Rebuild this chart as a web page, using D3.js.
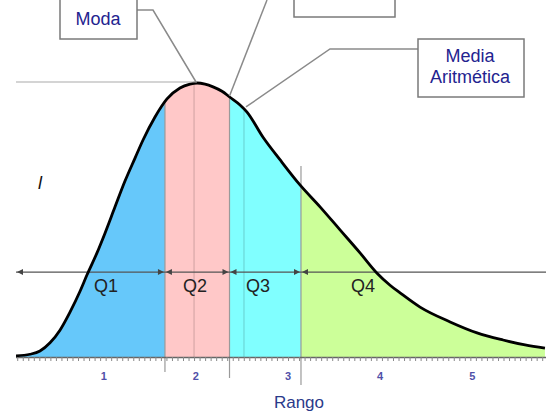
<!DOCTYPE html>
<html>
<head>
<meta charset="utf-8">
<script src="https://cdn.jsdelivr.net/npm/d3@7"></script>
<style>
  body { margin: 0; background: #fff; }
  svg { display: block; font-family: "Liberation Sans", Arial, sans-serif; }
</style>
</head>
<body>
<svg width="557" height="413"></svg>
<script>
// curve (x in "Rango" units, y relative density)
const curveX = [0.047, 0.199, 0.307, 0.416, 0.524, 0.633, 0.742, 0.818, 0.926, 1.013,
  1.122, 1.230, 1.339, 1.426, 1.556, 1.686, 1.827, 1.936, 2.012, 2.099,
  2.186, 2.283, 2.370, 2.479, 2.555, 2.729, 2.913, 3.130, 3.348, 3.565,
  3.782, 3.967, 4.108, 4.217, 4.434, 4.760, 5.053, 5.335, 5.574, 5.790];
const curveY = [0.002, 0.005, 0.011, 0.026, 0.049, 0.082, 0.120, 0.150, 0.190, 0.226,
  0.274, 0.321, 0.363, 0.396, 0.438, 0.471, 0.491, 0.498, 0.500, 0.498,
  0.493, 0.485, 0.474, 0.460, 0.447, 0.401, 0.360, 0.314, 0.274, 0.232,
  0.190, 0.153, 0.131, 0.117, 0.091, 0.064, 0.044, 0.031, 0.022, 0.016];

const quartileBounds = [0.047, 1.664, 2.365, 3.141, 5.79];
const quartileLabels = ["Q1", "Q2", "Q3", "Q4"];
const quartileLabelX = [1.025, 1.99, 2.674, 3.814];
const quartileColors = ["#66c8fa", "#ffc8c8", "#80ffff", "#ccff99"];
const tickLabels = [0, 1, 2, 3, 4, 5];

const modeX = 1.98, medianX = 2.365, meanX = 2.522;
const arrowLevel = 0.155;

const svg = d3.select("svg");
const x = d3.scaleLinear().domain([0, 6]).range([11.7, 11.7 + 92.1 * 6]);
const y = d3.scaleLinear().domain([0, 0.5]).range([357, 83]);
const curveAt = d3.scaleLinear().domain(curveX).range(curveY);

const defs = svg.append("defs");
defs.append("clipPath").attr("id", "plotclip")
  .append("rect").attr("x", 16).attr("y", 0).attr("width", 530).attr("height", 413);

quartileBounds.slice(0, -1).forEach((lo, i) => {
  defs.append("clipPath").attr("id", "q" + i)
    .append("rect")
    .attr("x", x(lo)).attr("y", 0)
    .attr("width", x(quartileBounds[i + 1]) - x(lo)).attr("height", 413);
});

const g = svg.append("g").attr("clip-path", "url(#plotclip)");

const pts = curveX.map((d, i) => [d, curveY[i]]);
const area = d3.area().x(d => x(d[0])).y0(y(0)).y1(d => y(d[1])).curve(d3.curveMonotoneX);
const line = d3.line().x(d => x(d[0])).y(d => y(d[1])).curve(d3.curveMonotoneX);

// quartile fills
quartileColors.forEach((c, i) => {
  g.append("path").datum(pts)
    .attr("clip-path", `url(#q${i})`)
    .attr("d", area)
    .attr("fill", c);
});

// mode and mean lines inside the fill
[modeX, meanX].forEach(v => {
  g.append("line")
    .attr("x1", x(v)).attr("x2", x(v))
    .attr("y1", y(0)).attr("y2", y(curveAt(v)))
    .attr("stroke", "rgba(0,0,0,0.13)").attr("stroke-width", 1.5);
});

// quartile boundary lines, extending below the axis
const boundTop = [null, null, 166];
const boundBottom = [372, 378, 385];
quartileBounds.slice(1, 4).forEach((v, i) => {
  g.append("line")
    .attr("x1", x(v)).attr("x2", x(v))
    .attr("y1", boundTop[i] === null ? y(curveAt(v)) : boundTop[i])
    .attr("y2", boundBottom[i])
    .attr("stroke", "#9a9a9a").attr("stroke-width", 1.2);
});

// axis
const axis = d3.axisBottom(x)
  .tickValues(d3.range(0, 6, 0.06))
  .tickSize(4)
  .tickFormat("");
const ax = g.append("g").attr("transform", `translate(0,${y(0)})`).call(axis);
ax.select(".domain").attr("stroke", "#666").attr("stroke-width", 1.5);
ax.selectAll(".tick line").attr("stroke", "#888");

g.selectAll(".tlabel").data(tickLabels).enter().append("text")
  .attr("class", "tlabel")
  .attr("x", d => x(d)).attr("y", 380)
  .attr("text-anchor", "middle")
  .attr("font-size", 11).attr("font-weight", "bold")
  .attr("fill", "#5050a8")
  .text(d => d);

// horizontal quartile arrow line
const ay = y(arrowLevel);
g.append("line")
  .attr("x1", 16).attr("x2", 557)
  .attr("y1", ay).attr("y2", ay)
  .attr("stroke", "#555").attr("stroke-width", 1.2);

function arrowHead(tipX, dir) {
  g.append("path")
    .attr("d", `M${tipX},${ay} L${tipX - dir * 6},${ay - 3} L${tipX - dir * 6},${ay + 3} Z`)
    .attr("fill", "#444");
}
arrowHead(17, -1);
quartileBounds.slice(1, 4).forEach(v => {
  arrowHead(x(v) - 1, 1);
  arrowHead(x(v) + 1, -1);
});

g.selectAll(".qlabel").data(quartileLabels).enter().append("text")
  .attr("class", "qlabel")
  .attr("x", (d, i) => x(quartileLabelX[i])).attr("y", 292)
  .attr("text-anchor", "middle")
  .attr("font-size", 18)
  .attr("fill", "#222")
  .text(d => d);

// curve
g.append("path").datum(pts)
  .attr("d", line)
  .attr("fill", "none")
  .attr("stroke", "#000").attr("stroke-width", 2.8);

// annotation lines
const peakY = y(d3.max(curveY)) - 1;
g.append("line")
  .attr("x1", 16).attr("x2", x(modeX) + 3)
  .attr("y1", peakY).attr("y2", peakY)
  .attr("stroke", "#aaa").attr("stroke-width", 1.2);

const ann = g.append("g").attr("fill", "none").attr("stroke", "#8a8a8a").attr("stroke-width", 1.5);
ann.append("polyline")
  .attr("points", `137,10 153,10 ${x(modeX) + 2},${peakY}`);
ann.append("polyline")
  .attr("points", `267,0 ${x(medianX)},${y(curveAt(medianX)) - 1}`);
ann.append("polyline")
  .attr("points", `418,49 330,49 ${x(meanX) + 2},${y(curveAt(meanX)) - 2}`);

// boxes
function box(x0, y0, w, h) {
  svg.append("rect")
    .attr("x", x0).attr("y", y0).attr("width", w).attr("height", h)
    .attr("fill", "#fff").attr("stroke", "#7a7a7a").attr("stroke-width", 1.5);
}
box(60, -20, 77, 59);
box(294, -30, 101, 47);
box(418, 39, 106, 58);

const textColor = "#23238f";
svg.append("text").attr("x", 98).attr("y", 25)
  .attr("text-anchor", "middle").attr("font-size", 18).attr("fill", textColor)
  .text("Moda");
svg.append("text").attr("x", 470).attr("y", 62)
  .attr("text-anchor", "middle").attr("font-size", 18).attr("fill", textColor)
  .text("Media");
svg.append("text").attr("x", 470).attr("y", 83)
  .attr("text-anchor", "middle").attr("font-size", 18).attr("fill", textColor)
  .text("Aritmética");

// stray y-axis mark
svg.append("text").attr("x", 38).attr("y", 189)
  .attr("font-size", 18).attr("font-style", "italic").attr("fill", "#111")
  .text("l");

// axis title
svg.append("text").attr("x", 299).attr("y", 408)
  .attr("text-anchor", "middle").attr("font-size", 17).attr("fill", "#2a3a8a")
  .text("Rango");
</script>
</body>
</html>
